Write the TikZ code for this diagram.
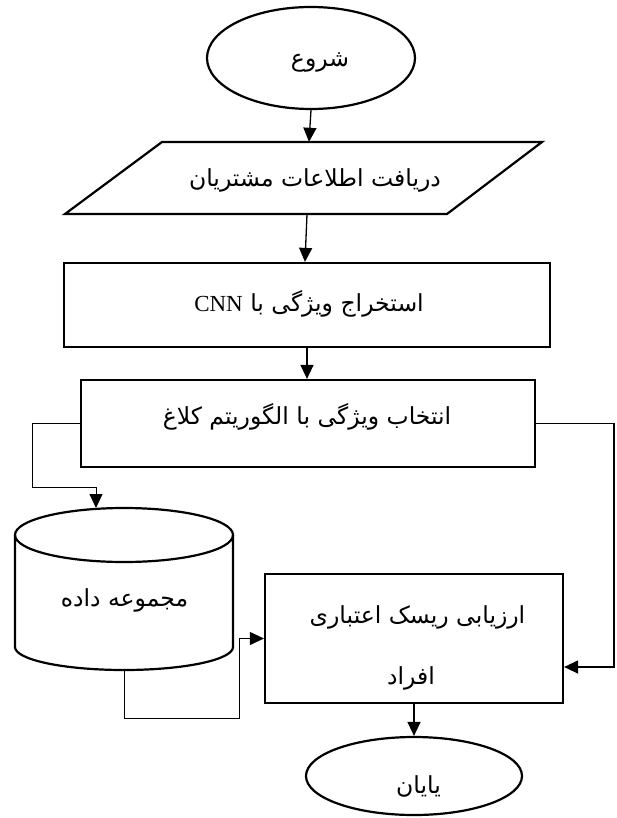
\documentclass[tikz,border=0pt]{standalone}
\usepackage{fontspec}
\setmainfont{Liberation Serif}
\newfontfamily\fa[Script=Arabic]{DejaVu Sans}
\TeXXeTstate=1
\usetikzlibrary{shapes.geometric,arrows.meta}
\begin{document}
\begin{tikzpicture}[x=1pt,y=-1pt,
  shapebox/.style={draw,line width=2.2pt,inner sep=0pt},
  txt/.style={font=\fa\fontsize{23.5}{28}\selectfont,inner sep=0pt},
  arr/.style={line width=1.3pt,-{Triangle[length=14pt,width=13pt]}},
  elbow/.style={line width=1pt,-{Triangle[length=14pt,width=13pt]}}]
\useasboundingbox (0,0) rectangle (616,818);
\fill[white] (0,0) rectangle (616,818);

% start
\node[shapebox,ellipse,minimum width=208pt,minimum height=102pt] (start) at (311,58) {};
\node[txt] (starttxt) at (320,62) {\beginR شروع\endR};

% input parallelogram
\node[rectangle,inner sep=0pt,minimum width=380pt,minimum height=72pt] (inp) at (303.5,178) {};
\draw[line width=2.2pt,line join=miter] (162,142) -- (542,142) -- (447,214) -- (65,214) -- cycle;
\node[txt] (inptxt) at (315,180) {\beginR دریافت اطلاعات مشتریان\endR};

% feature extraction
\node[shapebox,rectangle,minimum width=486pt,minimum height=84pt] (ext) at (307,305) {};
\node[txt] (exttxt) at (309,304) {\beginR استخراج ویژگی با \beginL{\rmfamily\fontsize{23}{27}\selectfont CNN}\endL\endR};

% feature selection
\node[shapebox,rectangle,minimum width=454pt,minimum height=87pt] (sel) at (308,423.5) {};
\node[txt] (seltxt) at (307,417) {\beginR انتخاب ویژگی با الگوریتم کلاغ\endR};

% dataset cylinder
\coordinate (dbtop) at (124,508);
\coordinate (dbbot) at (124,670);
\draw[line width=2.2pt,fill=white] (15,535) -- (15,647) arc[start angle=180,end angle=360,x radius=109pt,y radius=23pt]
  -- (233,535) arc[start angle=0,end angle=180,x radius=109pt,y radius=27pt] -- cycle;
\draw[line width=2.2pt] (15,535) arc[start angle=180,end angle=360,x radius=109pt,y radius=27pt];
\node[txt] (db) at (124.5,600) {\beginR مجموعه داده\endR};

% evaluation
\node[shapebox,rectangle,minimum width=298pt,minimum height=129pt] (eval) at (414,638.5) {};
\node[txt] (evaltxt1) at (417.5,617) {\beginR ارزیابی ریسک اعتباری\endR};
\node[txt] (evaltxt2) at (411,678) {\beginR افراد\endR};

% end
\node[shapebox,ellipse,minimum width=216pt,minimum height=78pt] (stop) at (414,776) {};
\node[txt] (stoptxt) at (418.5,786) {\beginR یایان\endR};

% connectors
\draw[arr] (start.south) -- ([xshift=-2pt]start.south |- inp.north);
\draw[arr] ([xshift=3.5pt]inp.south) -- ([xshift=-2pt]ext.north);
\draw[arr] (ext.south) -- (ext.south |- sel.north);
\draw[elbow] (sel.west) -- (32,423.5) -- (32,487) -- (96,487) -- ([xshift=-28pt]dbtop);
\draw[elbow] (dbbot) -- (124,718) -- (239,718) -- (239,638.5) -- (eval.west);
\draw[arr] (sel.east) -- (614,423.5) -- (614,667) -- ([yshift=-28.5pt]eval.east);
\draw[arr] (eval.south) -- (stop.north);
\end{tikzpicture}
\end{document}
